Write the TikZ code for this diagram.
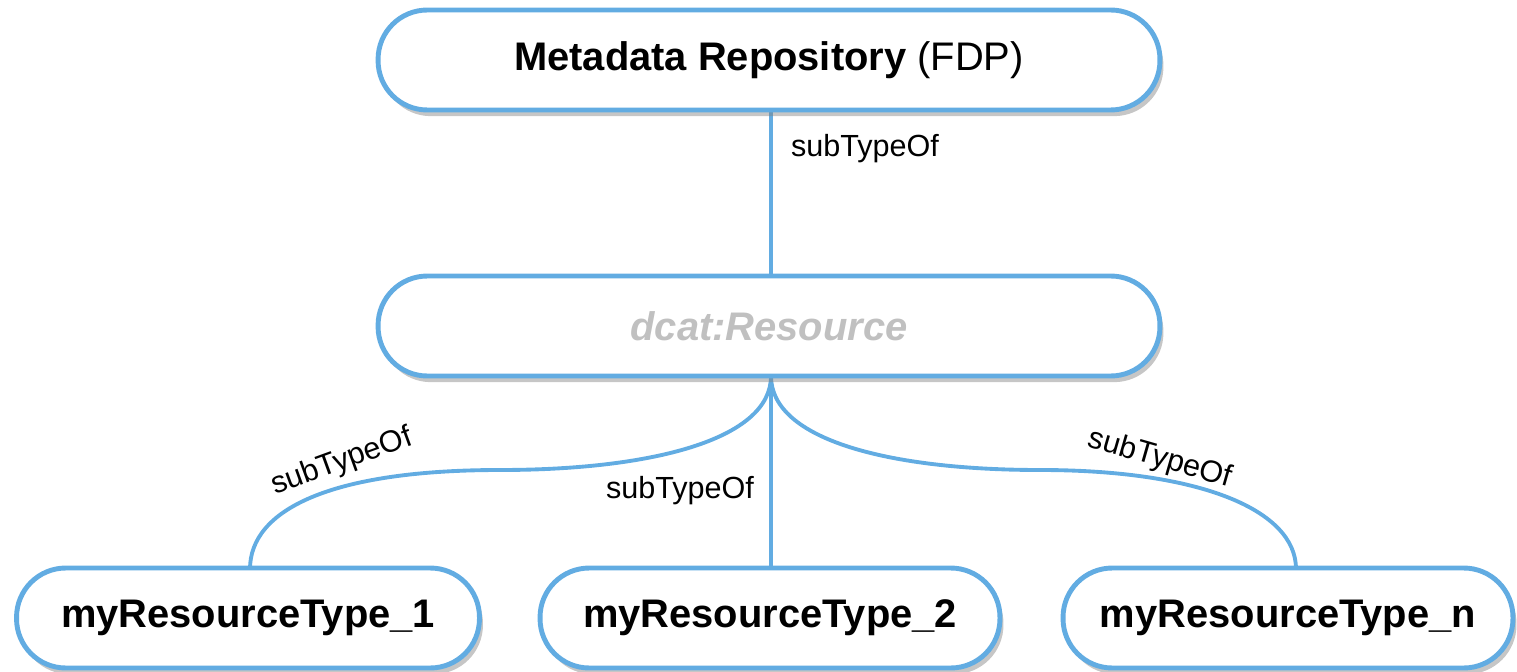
\documentclass[tikz,border=0pt]{standalone}
\usepackage{fontspec}
\setmainfont{Liberation Sans}
\usetikzlibrary{shadows}
\definecolor{edgeblue}{RGB}{98,172,226}
\definecolor{softgray}{RGB}{192,192,192}
\begin{document}
\begin{tikzpicture}[x=0.02cm,y=-0.02cm,
  pill/.style={draw=edgeblue, line width=2.8pt, fill=white, rounded corners=28pt,
    minimum height=2cm, inner sep=0pt, font=\fontsize{22.7}{26}\selectfont,
    drop shadow={opacity=0.45, shadow xshift=2pt, shadow yshift=-3.5pt}},
  link/.style={draw=edgeblue, line width=2.2pt},
  lbl/.style={font=\fontsize{17.4}{20}\selectfont, inner sep=0pt}]
\useasboundingbox (0,0) rectangle (1517,672);

% connectors first so the boxes sit on top of their ends
\coordinate (topbot) at (771,108);
\coordinate (midtop) at (771,276);
\coordinate (midbot) at (771,376);
\coordinate (b1top) at (250,569);
\coordinate (b2top) at (771,569);
\coordinate (bntop) at (1296,569);
\coordinate (lmid) at (500,470);
\coordinate (rmid) at (1040,470);

\draw[link] (topbot) -- (midtop);
\draw[link] (midbot) -- (b2top);
\draw[link] (midbot) .. controls (771,440) and (650,470) .. (lmid)
                     .. controls (330,470) and (250,510) .. (b1top);
\draw[link] (midbot) .. controls (771,440) and (890,470) .. (rmid)
                     .. controls (1200,470) and (1296,510) .. (bntop);

% boxes
\node[pill, minimum width=15.64cm] (repo) at (769,60)
  {\textbf{Metadata Repository} (FDP)};
\node[pill, minimum width=15.64cm] (res) at (769,326)
  {\color{softgray}\textbf{\textit{dcat:Resource}}};
\node[pill, minimum width=9.26cm] (t1) at (248,618) {\textbf{myResourceType\_1}};
\node[pill, minimum width=9.2cm] (t2) at (770,618) {\textbf{myResourceType\_2}};
\node[pill, minimum width=9.0cm] (tn) at (1288,618) {\textbf{myResourceType\_n}};

% edge labels
\node[lbl] (l0) at (865,149) {subTypeOf};
\node[lbl, rotate=20] (l1) at (342,462) {subTypeOf};
\node[lbl] (l2) at (680,491) {subTypeOf};
\node[lbl, rotate=-16] (l3) at (1160,459) {subTypeOf};
\end{tikzpicture}
\end{document}
